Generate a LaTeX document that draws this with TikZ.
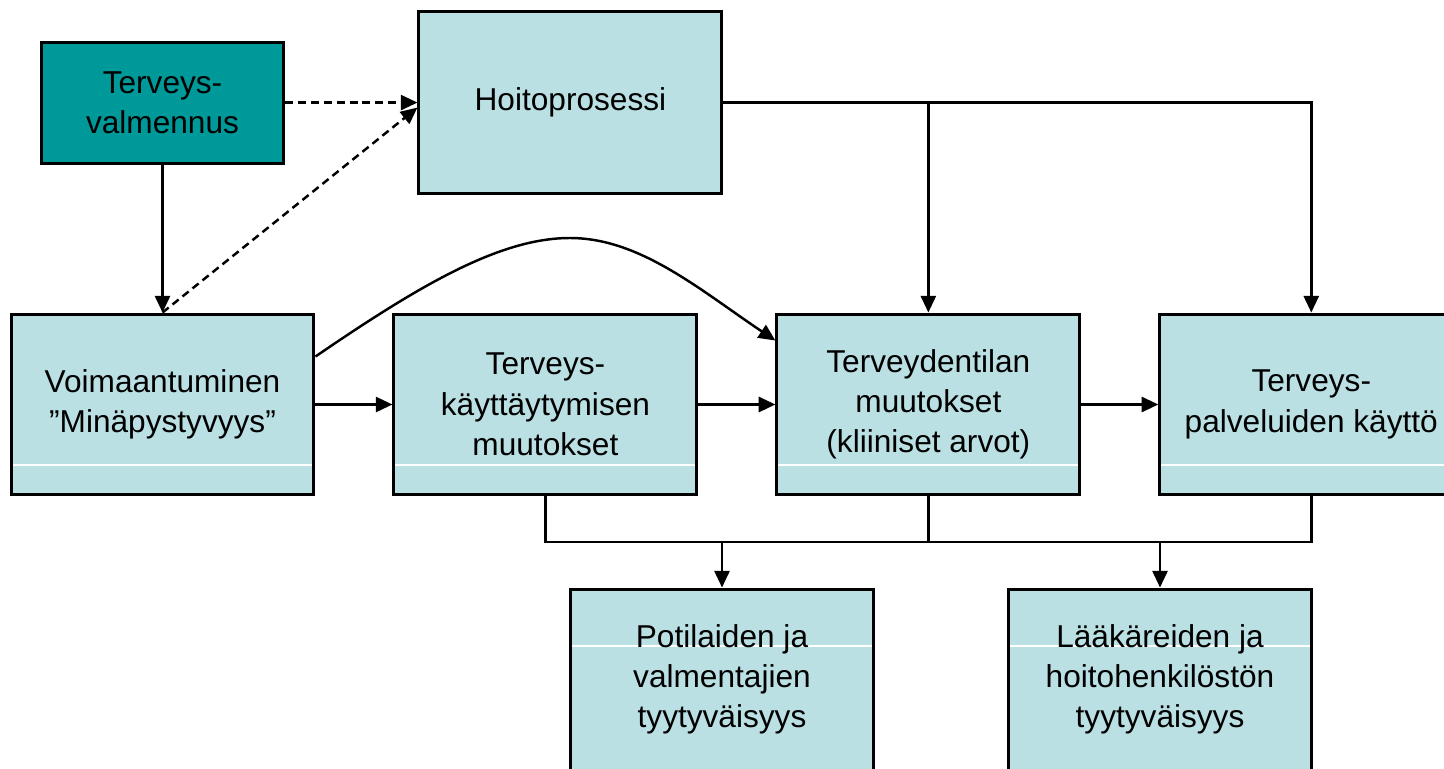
\documentclass[tikz,border=0pt]{standalone}
\usepackage{fontspec}
\setmainfont{Liberation Sans}
\usetikzlibrary{arrows.meta,positioning,calc}
\definecolor{boxfill}{HTML}{BAE0E3}
\definecolor{tealfill}{HTML}{009999}
\tikzset{
block/.style = {draw, line width=1.7pt, fill=boxfill, rectangle, inner sep=0pt, align=center,
  minimum height=3.62cm, minimum width=6.06cm, font=\fontsize{18}{22.9}\selectfont},
coach/.style = {block, fill=tealfill, minimum height=2.42cm, minimum width=4.86cm},
band/.style  = {path picture={\draw [white, line width=0.6pt]
  ([yshift=#1]path picture bounding box.south west) -- ([yshift=#1]path picture bounding box.south east);}},
link/.style  = {line width=1.4pt},
dashlink/.style = {link, dash pattern=on 4.5pt off 2.8pt},
tmp/.style   = {coordinate}
}

\begin{document}
\begin{tikzpicture}[x=0.02cm, y=-0.02cm, node distance=7.66cm, >={Triangle[length=9.5pt,width=8.6pt]}]
  \useasboundingbox (0,0) rectangle (1444,768);

  \node [block, band=0.6cm] at (162.5,404.5)            (voima) {Voimaantuminen\\”Minäpystyvyys”};
  \node [block, band=0.6cm, right of=voima]             (kayt)  {Terveys-\\käyttäytymisen\\muutokset};
  \node [block, band=0.6cm, right of=kayt]              (tila)  {Terveydentilan\\muutokset\\(kliiniset arvot)};
  \node [block, band=0.6cm, right of=tila]              (palv)  {Terveys-\\palveluiden käyttö};
  \node [coach, above of=voima, node distance=6.04cm]   (valm)  {Terveys-\\valmennus};
  \node [block, minimum height=3.64cm, right of=valm, node distance=8.16cm] (hoito) {Hoitoprosessi};
  \node [block, band=2.48cm] at (722,679.5)             (potil) {Potilaiden ja\\valmentajien\\tyytyväisyys};
  \node [block, band=2.48cm] at (1160,679.5)            (laak)  {Lääkäreiden ja\\hoitohenkilöstön\\tyytyväisyys};
  \node [tmp] at (0,542)                                (bus)   {};

  \draw [link, ->] (valm) -- (voima);
  \draw [dashlink, ->] (valm) -- (hoito);
  \draw [dashlink, ->] (voima.north) -- ([yshift=-0.1cm]hoito.west);
  \draw [link, ->] (hoito.east) -| (palv.north);
  \draw [link, ->] (hoito.east -| tila.north) -- (tila.north);
  \draw [link, ->] ([yshift=-0.88cm]voima.north east) .. controls (420,285) and (500,238) .. (570,238)
    .. controls (640,238) and (700,290) .. ([yshift=-0.56cm]tila.north west);
  \draw [link, ->] (voima) -- (kayt);
  \draw [link, ->] (kayt) -- (tila);
  \draw [link, ->] (tila) -- (palv);
  \draw [link] (kayt.south) -- (kayt.south |- bus) -- (palv.south |- bus) -- (palv.south);
  \draw [link] (tila.south) -- (tila.south |- bus);
  \draw [link, ->] (potil.north |- bus) -- (potil.north);
  \draw [link, ->] (laak.north |- bus) -- (laak.north);
\end{tikzpicture}
\end{document}
